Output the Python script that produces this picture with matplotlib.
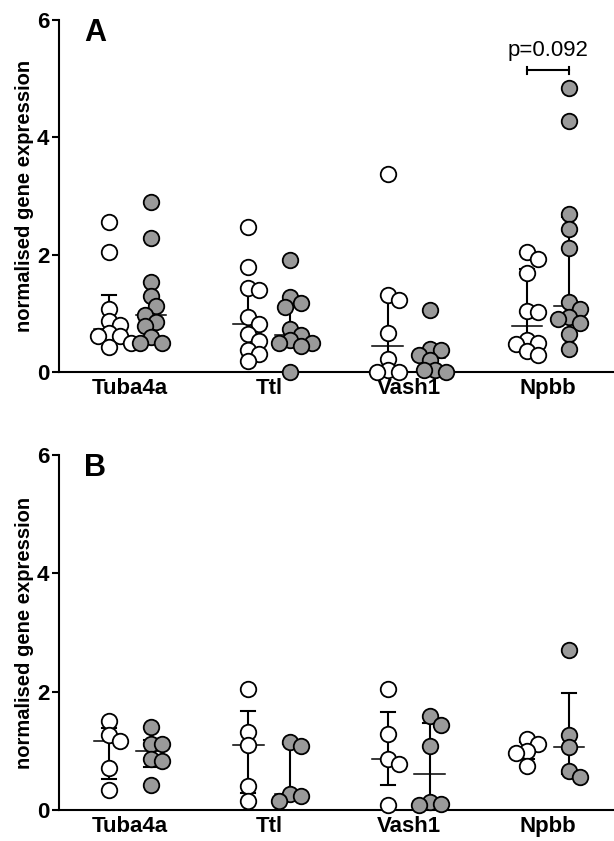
import numpy as np
import matplotlib
matplotlib.use("Agg")
import matplotlib.pyplot as plt

plt.rcParams['font.family'] = ['Liberation Sans', 'DejaVu Sans']

genes = ['Tuba4a', 'Ttl', 'Vash1', 'Npbb']

# panel A
a_open = [
    [2.55, 2.04, 1.07, 0.87, 0.80, 0.66, 0.62, 0.62, 0.50, 0.42],
    [2.48, 1.79, 1.43, 1.40, 0.93, 0.82, 0.65, 0.52, 0.38, 0.31, 0.18],
    [3.37, 1.31, 1.23, 0.67, 0.23, 0.03, 0.0, 0.0],
    [2.05, 1.93, 1.69, 1.04, 1.03, 0.55, 0.49, 0.48, 0.35, 0.29],
]
a_grey = [
    [2.90, 2.28, 1.54, 1.29, 1.12, 0.97, 0.86, 0.78, 0.59, 0.50, 0.49],
    [1.91, 1.27, 1.17, 1.11, 0.74, 0.63, 0.55, 0.50, 0.49, 0.44, 0.0],
    [1.06, 0.40, 0.37, 0.29, 0.20, 0.03, 0.03, 0.0],
    [4.84, 4.28, 2.70, 2.44, 2.12, 1.19, 1.07, 0.94, 0.91, 0.83, 0.65, 0.39],
]

# panel B
b_open = [
    [1.51, 1.27, 1.17, 0.71, 0.34],
    [2.04, 1.31, 1.10, 0.41, 0.16],
    [2.04, 1.28, 0.86, 0.78, 0.08],
    [1.20, 1.11, 1.00, 0.96, 0.75],
]
b_grey = [
    [1.41, 1.11, 1.11, 0.87, 0.83, 0.43],
    [1.15, 1.09, 0.27, 0.24, 0.16],
    [1.59, 1.44, 1.09, 0.13, 0.10, 0.08],
    [2.70, 1.26, 1.07, 0.66, 0.55],
]

p_text = 'p=0.092'
p_gene = 3

GREY = '#9a9a9a'
XSCALE = 139.3  # px per category unit
YSCALE = 58.7   # px per y unit


def swarm(vals, step=5.5, mind=10.5):
    placed = []
    offs = []
    for v in vals:
        y = v * YSCALE
        k = 0
        while True:
            cands = [0.0] if k == 0 else [k * step, -k * step]
            ok = None
            for c in cands:
                if all((c - px) ** 2 + (y - py) ** 2 >= mind ** 2 for px, py in placed):
                    ok = c
                    break
            if ok is not None:
                placed.append((ok, y))
                offs.append(ok / XSCALE)
                break
            k += 1
    return np.array(offs)


def med_iqr(ax, x, vals):
    q1, med, q3 = np.percentile(vals, [25, 50, 75], method='weibull')
    ax.plot([x, x], [q1, q3], color='black', lw=1.5, zorder=2, solid_capstyle='butt')
    for q in (q1, q3):
        ax.plot([x - 0.05, x + 0.05], [q, q], color='black', lw=1.5, zorder=2)
    ax.plot([x - 0.11, x + 0.11], [med, med], color='black', lw=1.1, zorder=2)


def panel(ax, opn, gry, letter):
    for i in range(len(genes)):
        for vals, dx, fc in ((opn[i], -0.15, 'white'), (gry[i], 0.15, GREY)):
            x = i + dx
            med_iqr(ax, x, vals)
            ax.scatter(x + swarm(vals), vals, s=125, facecolor=fc, edgecolor='black',
                       linewidth=1.3, zorder=3, clip_on=False)
    ax.set_xlim(-0.51, 3.474)
    ax.set_ylim(0, 6)
    ax.set_yticks([0, 2, 4, 6])
    ax.set_xticks(range(len(genes)))
    ax.set_xticklabels(genes, fontweight='bold', fontsize=16)
    ax.tick_params(axis='x', length=0, pad=4)
    ax.tick_params(axis='y', length=5, width=1.5, pad=2, labelsize=16)
    for t in ax.get_yticklabels():
        t.set_fontweight('bold')
    ax.spines['top'].set_visible(False)
    ax.spines['right'].set_visible(False)
    ax.spines['left'].set_linewidth(1.5)
    ax.spines['bottom'].set_linewidth(1.5)
    ax.set_ylabel('normalised gene expression', fontweight='bold', fontsize=14.5, labelpad=2)
    ax.text(-0.25, 5.78, letter, fontsize=22, fontweight='bold', ha='center', va='center')


fig = plt.figure(figsize=(6.14, 8.41), dpi=100)
axA = fig.add_axes([59 / 614, 469 / 841, 555 / 614, 352 / 841])
axB = fig.add_axes([59 / 614, 31 / 841, 555 / 614, 355 / 841])
panel(axA, a_open, a_grey, 'A')
panel(axB, b_open, b_grey, 'B')

# significance bracket
x1, x2, yb = p_gene - 0.15, p_gene + 0.15, 5.14
axA.plot([x1, x2], [yb, yb], color='black', lw=1.5)
for xx in (x1, x2):
    axA.plot([xx, xx], [yb - 0.06, yb + 0.06], color='black', lw=1.5)
axA.text(p_gene, 5.3, p_text, ha='center', va='bottom', fontsize=16)

fig.savefig('out.png', dpi=100)
